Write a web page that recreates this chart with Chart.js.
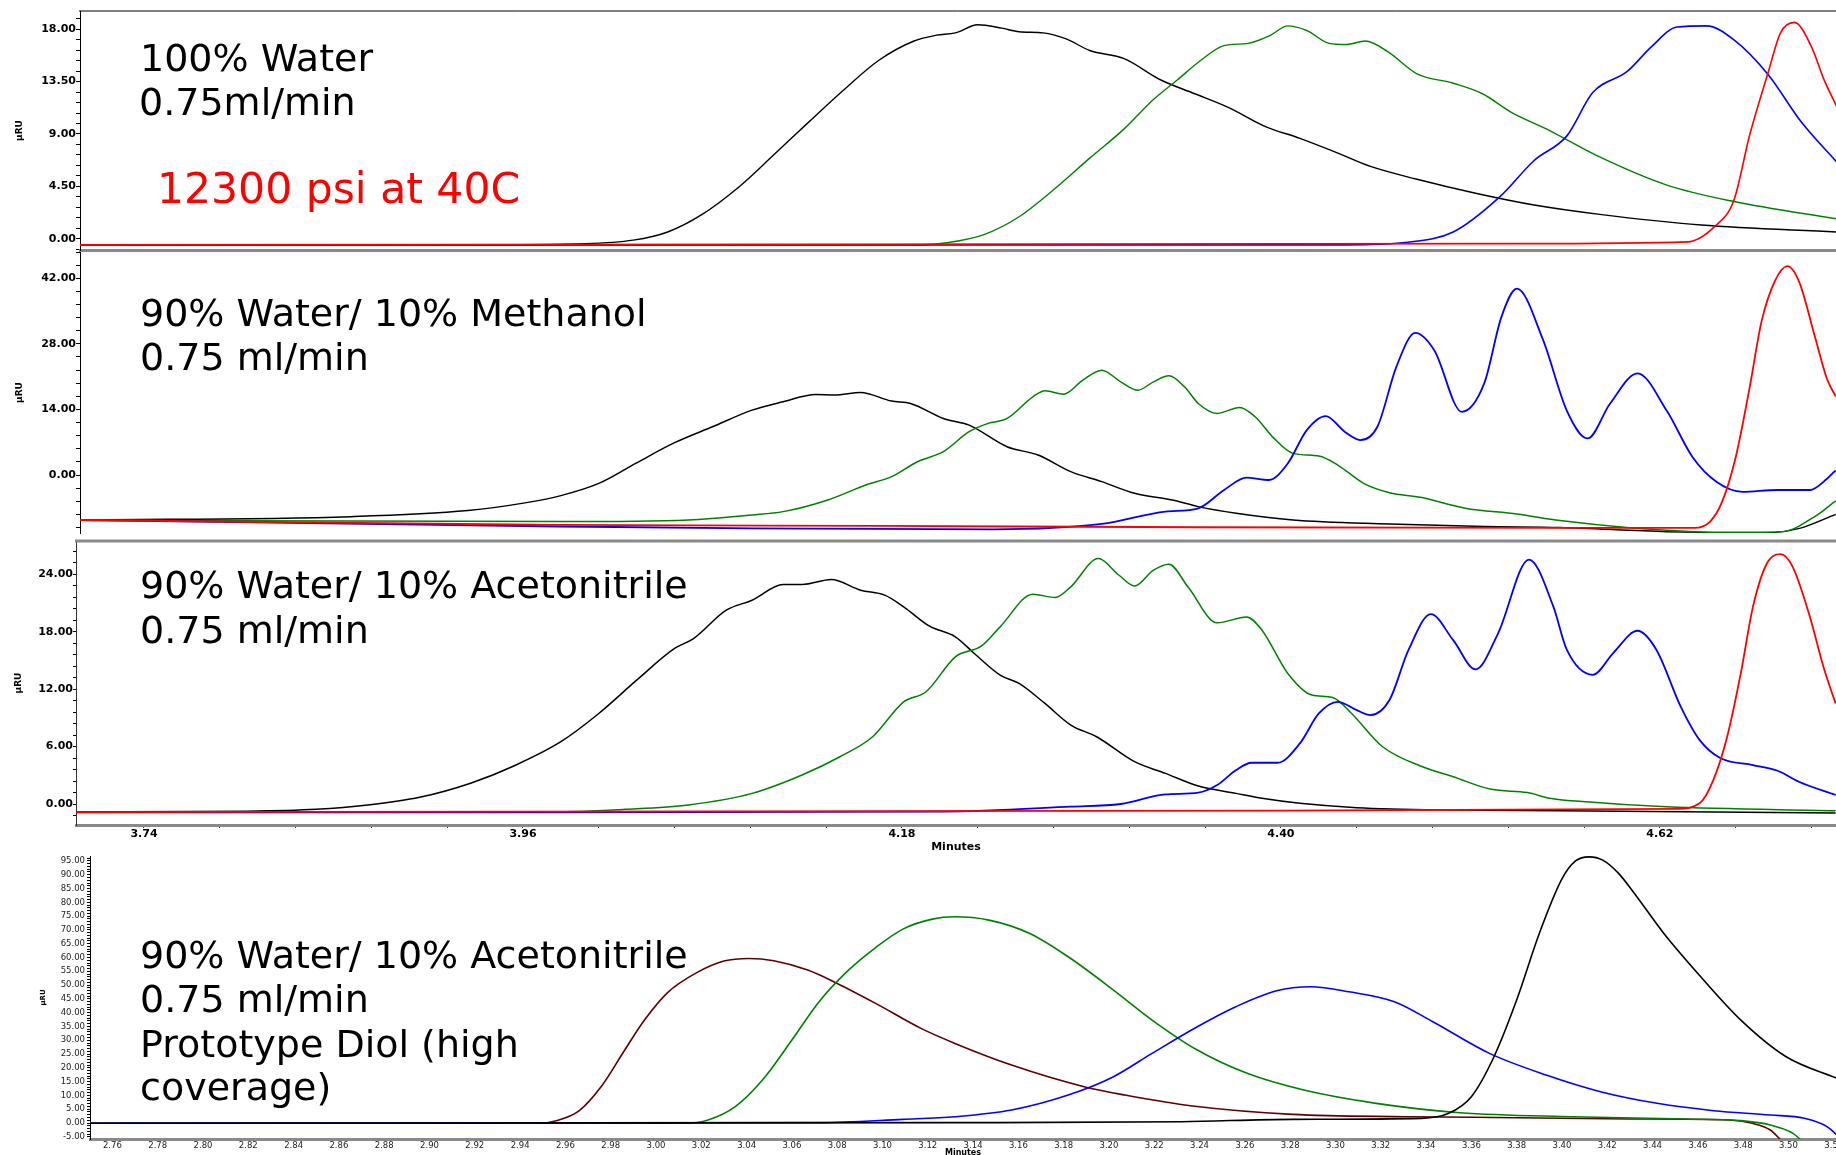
<!DOCTYPE html>
<html>
<head>
<meta charset="utf-8">
<script src="https://cdn.jsdelivr.net/npm/chart.js@4.4.1/dist/chart.umd.min.js"></script>
<style>
html,body{margin:0;padding:0;background:#fff;width:1836px;height:1155px;overflow:hidden;position:relative}
canvas{position:absolute;left:0}
</style>
</head>
<body>
<canvas id="c1" width="1836" height="254" style="top:0px;width:1836px;height:254px"></canvas>
<canvas id="c2" width="1836" height="292" style="top:250px;width:1836px;height:292px"></canvas>
<canvas id="c3" width="1836" height="330" style="top:538px;width:1836px;height:330px"></canvas>
<canvas id="c4" width="1836" height="320" style="top:850px;width:1836px;height:320px"></canvas>
<script>
// ---------------- DATA ----------------
// Panel 1: 100% Water (time in minutes, response in µRU)
const p1BlackT = [3.700,3.928,3.996,4.024,4.044,4.064,4.085,4.105,4.126,4.146,4.166,4.187,4.200,4.211,4.224,4.238,4.248,4.262,4.275,4.289,4.309,4.330,4.350,4.370,4.391,4.411,4.432,4.452,4.479,4.513,4.547,4.585,4.644,4.723];
const p1BlackV = [-0.50,-0.50,-0.40,-0.10,0.60,2.11,4.42,7.13,10.04,12.75,15.26,16.97,17.47,17.67,18.37,18.07,17.77,17.67,17.17,16.16,15.46,13.65,12.45,11.24,9.64,8.63,7.43,6.22,5.12,3.92,2.91,2.11,1.20,0.60];
const p1GreenT = [3.700,4.187,4.207,4.228,4.248,4.268,4.289,4.309,4.326,4.340,4.353,4.367,4.381,4.394,4.404,4.415,4.428,4.438,4.449,4.462,4.479,4.500,4.517,4.534,4.554,4.585,4.624,4.663,4.723];
const p1GreenV = [-0.50,-0.50,-0.30,0.40,1.91,4.22,6.93,9.44,11.95,13.65,15.26,16.57,16.77,17.47,18.27,17.87,16.77,16.67,16.97,16.06,14.16,13.35,12.45,10.84,9.44,7.03,4.62,3.21,1.71];
const p1BlueT = [3.700,4.438,4.472,4.500,4.527,4.547,4.566,4.581,4.601,4.615,4.630,4.647,4.663,4.683,4.702,4.723];
const p1BlueV = [-0.50,-0.50,-0.30,0.60,3.61,6.73,8.84,12.55,14.36,16.47,18.17,18.27,17.07,14.06,10.04,6.53];
const p1RedT = [3.700,4.540,4.636,4.652,4.663,4.672,4.683,4.690,4.698,4.708,4.715,4.723];
const p1RedV = [-0.50,-0.40,-0.25,1.10,3.34,8.85,14.36,17.67,18.57,16.47,13.75,11.24];

// Panel 2: 90% Water / 10% Methanol
const p2BlackT = [3.700,3.860,3.928,3.962,3.982,4.004,4.026,4.048,4.070,4.093,4.111,4.130,4.141,4.156,4.174,4.185,4.204,4.219,4.241,4.259,4.278,4.296,4.315,4.337,4.352,4.374,4.407,4.463,4.518,4.562,4.624,4.682,4.701,4.722];
const p2BlackV = [-9.60,-8.90,-7.60,-5.90,-4.40,-1.80,2.60,6.90,10.30,13.86,15.64,17.20,17.06,17.63,15.78,15.28,12.08,10.66,6.04,4.26,0.71,-1.42,-3.91,-5.33,-6.75,-8.17,-9.59,-10.45,-11.02,-11.23,-12.10,-12.30,-11.40,-8.40];
const p2GreenT = [3.700,3.982,4.056,4.093,4.111,4.137,4.159,4.174,4.189,4.204,4.219,4.230,4.241,4.256,4.263,4.274,4.285,4.296,4.307,4.317,4.326,4.335,4.344,4.352,4.363,4.376,4.385,4.396,4.407,4.422,4.433,4.448,4.463,4.481,4.507,4.537,4.562,4.604,4.662,4.691,4.711,4.722];
const p2GreenV = [-9.60,-9.95,-9.59,-8.53,-7.82,-5.33,-2.13,-0.36,2.84,4.98,9.24,11.02,12.08,16.70,17.98,17.27,20.26,22.39,19.90,18.12,19.90,21.18,18.83,15.28,13.15,14.43,12.44,7.82,4.62,4.05,2.13,-1.78,-3.77,-4.76,-7.11,-8.32,-9.74,-11.30,-12.30,-12.10,-8.60,-5.50];
const p2BlueT = [3.700,3.982,4.093,4.233,4.296,4.333,4.352,4.367,4.380,4.393,4.404,4.415,4.426,4.437,4.446,4.456,4.467,4.478,4.489,4.505,4.518,4.528,4.537,4.552,4.566,4.578,4.591,4.607,4.624,4.639,4.653,4.668,4.688,4.707,4.717,4.722];
const p2BlueV = [-9.60,-11.00,-11.40,-11.60,-10.45,-7.82,-7.11,-3.20,-0.57,-1.07,2.49,9.59,12.58,9.24,7.46,10.31,23.10,30.35,26.65,13.50,19.55,33.76,39.80,29.00,13.70,7.80,15.20,21.70,13.70,3.80,-1.50,-3.60,-3.20,-3.20,-0.80,1.00];
const p2RedT = [3.700,3.982,4.167,4.352,4.562,4.640,4.649,4.656,4.664,4.672,4.679,4.687,4.694,4.701,4.710,4.717,4.722];
const p2RedV = [-9.60,-10.66,-10.87,-11.16,-11.30,-11.30,-10.00,-5.80,3.80,18.50,32.80,41.60,44.60,41.10,29.50,20.50,16.80];

// Panel 3: 90% Water / 10% Acetonitrile
const p3BlackT = [3.700,3.800,3.840,3.870,3.900,3.930,3.955,3.982,4.004,4.026,4.048,4.059,4.078,4.093,4.111,4.122,4.139,4.156,4.170,4.181,4.196,4.211,4.222,4.237,4.248,4.263,4.278,4.293,4.315,4.333,4.352,4.374,4.389,4.411,4.444,4.500,4.562,4.722];
const p3BlackV = [-0.83,-0.75,-0.55,-0.10,0.70,2.20,4.00,6.51,9.46,12.94,16.25,17.29,20.25,21.29,22.93,22.93,23.45,22.34,21.82,20.60,18.58,17.47,15.73,13.47,12.60,10.51,8.25,7.03,4.42,3.20,1.88,1.11,0.59,0.07,-0.38,-0.63,-0.70,-0.94];
const p3GreenT = [3.700,3.982,4.019,4.056,4.093,4.122,4.144,4.163,4.181,4.194,4.211,4.226,4.237,4.256,4.269,4.278,4.294,4.306,4.315,4.326,4.335,4.346,4.363,4.380,4.389,4.404,4.418,4.430,4.441,4.459,4.481,4.500,4.522,4.543,4.556,4.575,4.624,4.722];
const p3GreenV = [-0.83,-0.80,-0.56,-0.10,1.11,3.03,4.94,7.03,10.68,11.73,15.38,16.49,18.51,21.92,21.57,22.69,25.64,23.90,22.79,24.43,25.05,22.69,18.93,19.55,18.16,13.64,11.38,11.13,9.46,5.98,3.97,2.85,1.53,1.20,0.60,0.25,-0.30,-0.70];
const p3BlueT = [3.700,3.982,4.204,4.278,4.307,4.333,4.352,4.363,4.374,4.383,4.398,4.411,4.422,4.433,4.444,4.452,4.463,4.474,4.487,4.500,4.513,4.526,4.544,4.558,4.566,4.581,4.593,4.607,4.618,4.632,4.643,4.655,4.674,4.688,4.701,4.722];
const p3BlueV = [-0.87,-0.87,-0.80,-0.28,0.00,1.00,1.18,1.98,3.55,4.31,4.31,6.33,9.46,10.68,9.81,9.29,10.86,16.07,19.83,17.12,14.06,17.81,25.54,20.70,16.10,13.50,15.80,18.10,16.10,10.20,6.70,4.80,4.07,3.50,2.30,0.94];
const p3RedT = [3.700,4.400,4.630,4.643,4.651,4.659,4.667,4.674,4.682,4.690,4.697,4.707,4.715,4.722];
const p3RedV = [-0.85,-0.70,-0.50,0.07,2.50,7.00,13.70,20.60,25.10,26.10,24.80,19.60,14.30,10.50];

// Panel 4: 90% Water / 10% Acetonitrile, Prototype Diol (high coverage)
const p4BrownT = [2.740,2.948,2.956,2.966,2.976,2.986,2.995,3.005,3.018,3.030,3.041,3.052,3.067,3.080,3.097,3.117,3.132,3.157,3.189,3.207,3.237,3.281,3.331,3.380,3.430,3.474,3.484,3.492,3.497];
const p4BrownV = [-0.10,-0.10,0.85,4.40,13.40,26.20,37.40,47.20,54.50,58.70,59.66,58.82,55.43,50.60,43.36,34.30,28.86,21.01,13.16,10.14,6.16,3.14,2.29,1.93,1.45,1.09,-0.12,-2.54,-6.50];
const p4GreenT = [2.740,3.013,3.023,3.035,3.047,3.060,3.072,3.085,3.097,3.109,3.122,3.132,3.147,3.165,3.182,3.202,3.219,3.239,3.261,3.286,3.318,3.355,3.405,3.455,3.479,3.492,3.502,3.506];
const p4GreenV = [-0.10,-0.10,1.09,5.92,15.58,30.07,43.96,55.40,63.60,70.30,73.91,74.76,73.55,68.72,60.27,48.19,37.32,26.45,18.00,11.96,7.13,3.74,2.29,1.45,0.85,-0.72,-3.74,-6.50];
const p4BlueT = [2.740,3.072,3.109,3.132,3.157,3.182,3.202,3.219,3.239,3.256,3.274,3.289,3.306,3.326,3.343,3.368,3.393,3.417,3.442,3.467,3.492,3.507,3.517,3.522];
const p4BlueV = [-0.10,0.12,1.33,2.29,4.71,10.14,16.79,25.24,34.90,42.15,47.95,49.40,47.58,43.96,36.71,25.24,17.39,11.35,7.13,4.47,2.90,1.69,-1.33,-4.80];
const p4BlackT = [2.740,3.132,3.232,3.281,3.338,3.350,3.360,3.370,3.380,3.390,3.400,3.406,3.412,3.418,3.425,3.432,3.445,3.460,3.479,3.499,3.522];
const p4BlackV = [-0.10,0.12,0.48,1.33,1.69,3.50,9.54,24.03,44.57,68.72,88.50,95.00,96.50,95.30,90.50,83.21,68.72,54.23,37.32,24.03,16.00];

// Tick labels
const p1YLabels = [0, 4.5, 9, 13.5, 18];
const p2YLabels = [0, 14, 28, 42];
const p3YLabels = [0, 6, 12, 18, 24];
const p4YLabels = [-5,0,5,10,15,20,25,30,35,40,45,50,55,60,65,70,75,80,85,90,95];
const p3XLabels = [3.74, 3.96, 4.18, 4.40, 4.62];
const p4XLabels = [2.76,2.78,2.80,2.82,2.84,2.86,2.88,2.90,2.92,2.94,2.96,2.98,3.00,3.02,3.04,3.06,3.08,3.10,3.12,3.14,3.16,3.18,3.20,3.22,3.24,3.26,3.28,3.30,3.32,3.34,3.36,3.38,3.40,3.42,3.44,3.46,3.48,3.50,3.52];

// Panel notes (text)
const p1Notes = ['100% Water', '0.75ml/min'];
const p1Note2 = '12300 psi at 40C';
const p2Notes = ['90% Water/ 10% Methanol', '0.75 ml/min'];
const p3Notes = ['90% Water/ 10% Acetonitrile', '0.75 ml/min'];
const p4Notes = ['90% Water/ 10% Acetonitrile', '0.75 ml/min', 'Prototype Diol (high', 'coverage)'];

// ---------------- HELPERS ----------------
const FAM = "'DejaVu Sans', Verdana, sans-serif";
const COL = {black:'#000000', green:'#008000', blue:'#0000ff', red:'#ff0000', brown:'#5c0000'};

function series(T, V, color, w) {
  return {
    data: T.map((t, i) => ({x: t, y: V[i]})),
    borderColor: color, borderWidth: w || 1.5, pointRadius: 0,
    cubicInterpolationMode: 'monotone', fill: false
  };
}
function tickList(majors, n, min, max) {
  const step = (majors[1] - majors[0]) / n;
  const base = majors[0];
  const out = [];
  const k0 = Math.ceil((min - base) / step - 1e-9);
  const k1 = Math.floor((max - base) / step + 1e-9);
  for (let k = k0; k <= k1; k++) out.push(+(base + k * step).toFixed(6));
  return out;
}
function isMajor(v, majors) { return majors.some(m => Math.abs(m - v) < 1e-6); }

function yScale(o) {
  const ticks = tickList(o.labels, o.sub, o.min, o.max);
  return {
    type: 'linear', position: 'left', min: o.min, max: o.max, bounds: 'data',
    afterBuildTicks: s => { s.ticks = ticks.map(v => ({value: v})); },
    afterFit: s => { s.width = o.width; s.paddingTop = 0; s.paddingBottom = 0; s.paddingLeft = 0; s.paddingRight = 0; },
    ticks: { autoSkip: false, padding: o.pad, color: o.tickColor || '#000',
      font: {family: FAM, size: o.fontSize, weight: o.weight || 'bold'},
      callback: v => isMajor(v, o.labels) ? Number(v).toFixed(2) : '' },
    grid: { drawOnChartArea: false, drawTicks: true, tickLength: o.tickLen, tickColor: '#000', tickWidth: 1 },
    border: { display: true, color: o.borderColor || '#000', width: 1 },
    title: { display: true, text: 'µRU', color: '#000',
      font: {family: FAM, size: o.titleSize, weight: 'bold'}, padding: {top: o.titlePad, bottom: 0} }
  };
}

function topLine(color, width) {
  return { id: 'topLine', afterDraw(chart) {
    const {ctx, chartArea: a} = chart;
    ctx.save(); ctx.strokeStyle = color; ctx.lineWidth = width;
    ctx.beginPath(); ctx.moveTo(a.left - 1, a.top); ctx.lineTo(a.right, a.top); ctx.stroke(); ctx.restore();
  } };
}
function notes(items) {
  return { id: 'notes', afterDraw(chart) {
    const ctx = chart.ctx; ctx.save();
    ctx.textAlign = 'left'; ctx.textBaseline = 'alphabetic';
    items.forEach(it => { ctx.font = it.font; ctx.fillStyle = it.color; ctx.fillText(it.text, it.x, it.y); });
    ctx.restore();
  } };
}
function baseOptions(pad) {
  return {
    responsive: false, animation: false, events: [], devicePixelRatio: 1,
    layout: { padding: pad },
    plugins: { legend: {display: false}, tooltip: {enabled: false} }
  };
}
const NOTE_FONT = "38px " + FAM;

// ---------------- PANEL 1 ----------------
{
  const o = baseOptions({top: 11, bottom: 0, left: 0, right: 0});
  o.scales = {
    x: { type: 'linear', position: 'bottom', min: 3.70285, max: 4.72222,
      afterFit: s => { s.height = 4; s.paddingLeft = 0; s.paddingRight = 0; },
      ticks: {display: false}, grid: {drawOnChartArea: false, drawTicks: false},
      border: {display: true, color: '#8a8a8a', width: 3} },
    y: yScale({labels: p1YLabels, sub: 5, min: -0.943, max: 19.543, width: 80, pad: 0, tickLen: 4, fontSize: 11, titleSize: 9, titlePad: 14.6})
  };
  new Chart(document.getElementById('c1'), {
    type: 'line',
    data: { datasets: [
      series(p1RedT, p1RedV, COL.red, 1.6),
      series(p1BlueT, p1BlueV, COL.blue, 1.6),
      series(p1GreenT, p1GreenV, COL.green, 1.4),
      series(p1BlackT, p1BlackV, COL.black, 1.4)
    ] },
    options: o,
    plugins: [topLine('#000', 1), notes([
      {text: p1Notes[0], x: 140, y: 71, font: NOTE_FONT, color: '#000'},
      {text: p1Notes[1], x: 139, y: 115, font: NOTE_FONT, color: '#000'},
      {text: p1Note2, x: 157, y: 203, font: "42.5px " + FAM, color: '#ff0000'}
    ])]
  });
}

// ---------------- PANEL 2 ----------------
{
  const o = baseOptions({top: 2, bottom: 9, left: 0, right: 0});
  o.scales = {
    x: { type: 'linear', display: false, min: 3.70285, max: 4.72222 },
    y: yScale({labels: p2YLabels, sub: 5, min: -12.385, max: 47.62, width: 80, pad: 0, tickLen: 4, fontSize: 11, titleSize: 9, titlePad: 14.6})
  };
  new Chart(document.getElementById('c2'), {
    type: 'line',
    data: { datasets: [
      series(p2RedT, p2RedV, COL.red, 1.8),
      series(p2BlueT, p2BlueV, COL.blue, 1.8),
      series(p2GreenT, p2GreenV, COL.green, 1.5),
      series(p2BlackT, p2BlackV, COL.black, 1.5)
    ] },
    options: o,
    plugins: [notes([
      {text: p2Notes[0], x: 140, y: 76, font: NOTE_FONT, color: '#000'},
      {text: p2Notes[1], x: 140, y: 120, font: NOTE_FONT, color: '#000'}
    ])]
  });
}

// ---------------- PANEL 3 ----------------
{
  const xMin = 3.70053, xMax = 4.72222;
  const xt = tickList(p3XLabels, 5, xMin, xMax);
  const o = baseOptions({top: 3, bottom: 0, left: 0, right: 0});
  o.scales = {
    x: { type: 'linear', position: 'bottom', min: xMin, max: xMax, bounds: 'data',
      afterBuildTicks: s => { s.ticks = xt.map(v => ({value: v})); },
      afterFit: s => { s.height = 43; s.paddingLeft = 0; s.paddingRight = 0; },
      ticks: { autoSkip: false, maxRotation: 0, minRotation: 0, padding: 0, color: '#000',
        font: {family: FAM, size: 11, weight: 'bold'},
        callback: v => isMajor(v, p3XLabels) ? Number(v).toFixed(2) : '' },
      grid: { drawOnChartArea: false, drawTicks: true, tickLength: 3, tickColor: '#333' },
      border: { display: true, color: '#8a8a8a', width: 3 },
      title: { display: true, text: 'Minutes', color: '#000', font: {family: FAM, size: 11, weight: 'bold'}, padding: {top: 0, bottom: 14.4} } },
    y: yScale({labels: p3YLabels, sub: 5, min: -2.194, max: 27.48, width: 76, pad: 0, tickLen: 3, fontSize: 11, titleSize: 9, titlePad: 13.6, borderColor: '#333'})
  };
  new Chart(document.getElementById('c3'), {
    type: 'line',
    data: { datasets: [
      series(p3RedT, p3RedV, COL.red, 1.8),
      series(p3BlueT, p3BlueV, COL.blue, 1.8),
      series(p3GreenT, p3GreenV, COL.green, 1.5),
      series(p3BlackT, p3BlackV, COL.black, 1.5)
    ] },
    options: o,
    plugins: [topLine('#8a8a8a', 3), notes([
      {text: p3Notes[0], x: 140, y: 60, font: NOTE_FONT, color: '#000'},
      {text: p3Notes[1], x: 140, y: 105, font: NOTE_FONT, color: '#000'}
    ])]
  });
}

// ---------------- PANEL 4 ----------------
{
  const xMin = 2.7501, xMax = 3.5210;
  const xt = tickList(p4XLabels, 4, xMin, xMax);
  const o = baseOptions({top: 6, bottom: 0, left: 0, right: 0});
  o.scales = {
    x: { type: 'linear', position: 'bottom', min: xMin, max: xMax, bounds: 'data',
      afterBuildTicks: s => { s.ticks = xt.map(v => ({value: v})); },
      afterFit: s => { s.height = 31; s.paddingLeft = 0; s.paddingRight = 0; },
      ticks: { autoSkip: false, maxRotation: 0, minRotation: 0, padding: 0, color: '#222',
        font: {family: FAM, size: 8.5},
        callback: v => isMajor(v, p4XLabels) ? Number(v).toFixed(2) : '' },
      grid: { drawOnChartArea: false, drawTicks: true, tickLength: 2, tickColor: '#333' },
      border: { display: true, color: '#8a8a8a', width: 3 },
      title: { display: true, text: 'Minutes', color: '#000', font: {family: FAM, size: 8, weight: 'bold'}, padding: {top: 0, bottom: 12.2} } },
    y: yScale({labels: p4YLabels, sub: 5, min: -5.8, max: 96.8, width: 90, pad: 2, tickLen: 3, fontSize: 8.5, weight: 'normal', tickColor: '#222', titleSize: 7, titlePad: 38.8})
  };
  new Chart(document.getElementById('c4'), {
    type: 'line',
    data: { datasets: [
      series(p4BlackT, p4BlackV, COL.black, 1.6),
      series(p4BlueT, p4BlueV, COL.blue, 1.6),
      series(p4GreenT, p4GreenV, COL.green, 1.6),
      series(p4BrownT, p4BrownV, COL.brown, 1.6)
    ] },
    options: o,
    plugins: [notes([
      {text: p4Notes[0], x: 140, y: 118, font: NOTE_FONT, color: '#000'},
      {text: p4Notes[1], x: 140, y: 162, font: NOTE_FONT, color: '#000'},
      {text: p4Notes[2], x: 140, y: 207, font: NOTE_FONT, color: '#000'},
      {text: p4Notes[3], x: 140, y: 250, font: NOTE_FONT, color: '#000'}
    ])]
  });
}
</script>
</body>
</html>
